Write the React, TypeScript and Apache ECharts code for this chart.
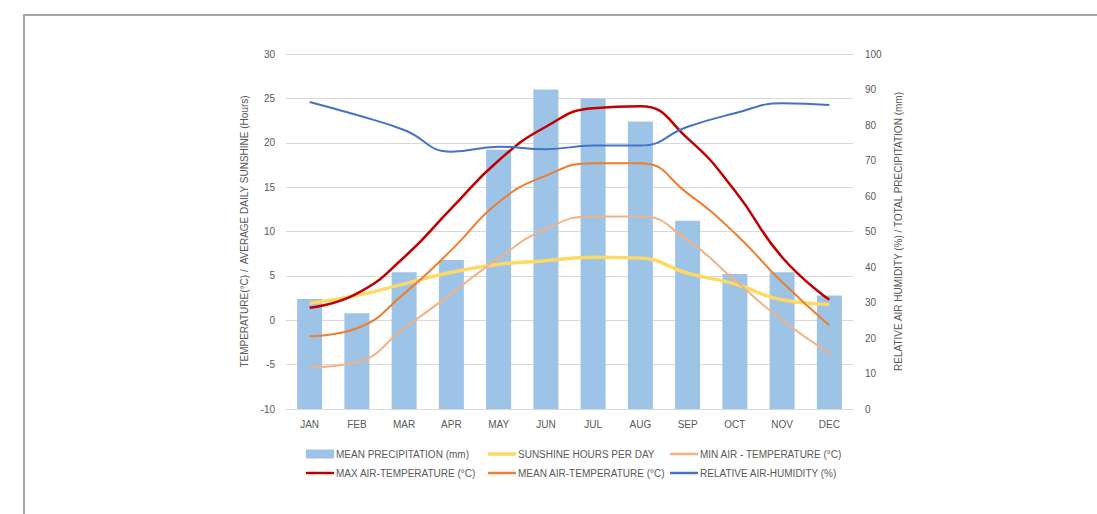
import React, { useEffect, useRef } from "react";
import * as echarts from "echarts";

const months = ["JAN", "FEB", "MAR", "APR", "MAY", "JUN", "JUL", "AUG", "SEP", "OCT", "NOV", "DEC"];
const precipitation = [31, 27, 38.5, 42, 73, 90, 87.5, 81, 53, 38, 38.5, 32];
const sunshine = [1.9, 2.8, 4.1, 5.4, 6.3, 6.7, 7.1, 7.0, 5.3, 4.1, 2.3, 1.8];
const minTemp = [-5.3, -4.7, -0.9, 3.0, 7.0, 10.3, 11.7, 11.7, 9.0, 4.5, 0.0, -3.7];
const maxTemp = [1.4, 3.0, 7.1, 12.6, 18.0, 21.8, 23.9, 24.1, 20.5, 14.6, 7.1, 2.3];
const meanTemp = [-1.8, -0.9, 3.0, 7.9, 13.3, 16.3, 17.7, 17.7, 14.3, 9.8, 4.3, -0.6];
const humidity = [86.5, 82.8, 78.6, 72.5, 73.9, 73.2, 74.2, 74.2, 79.5, 83.3, 86.1, 85.6];
const leftTicks = { min: -10, max: 30, interval: 5 };
const rightTicks = { min: 0, max: 100, interval: 10 };

const FONT = "'Liberation Sans Narrow', 'Liberation Sans', sans-serif";
const TXT = "#595959";

export default function App() {
  const ref = useRef<HTMLDivElement>(null);
  useEffect(() => {
    if (!ref.current) return;
    const chart = echarts.init(ref.current, null, { renderer: "svg" });
    const lineSeries = (name: string, data: number[], color: string, width: number) => ({
      name,
      type: "line",
      data,
      yAxisIndex: name.startsWith("RELATIVE") ? 1 : 0,
      smooth: 0.5,
      symbol: "none",
      showSymbol: false,
      lineStyle: { color, width },
      itemStyle: { color },
    });
    const thin = "path://M0,0 H56 V5 H0 Z";
    const thick = "path://M0,0 H56 V7 H0 Z";
    const legendBase = {
      orient: "vertical" as const,
      top: 444,
      itemWidth: 28,
      itemHeight: 9,
      itemGap: 9,
      textStyle: { color: TXT, fontSize: 10, fontFamily: FONT, padding: [0, 0, 0, -3] },
    };
    chart.setOption({
      animation: false,
      backgroundColor: "#ffffff",
      textStyle: { fontFamily: FONT },
      graphic: [
        {
          type: "rect",
          shape: { x: 24, y: 15, width: 1200, height: 600 },
          style: { fill: "none", stroke: "#a6a6a6", lineWidth: 2 },
          silent: true,
        },
      ],
      grid: { left: 286, right: 244, top: 54, bottom: 105 },
      legend: [
        {
          ...legendBase,
          left: 301,
          data: [
            { name: "MEAN PRECIPITATION (mm)", icon: "rect" },
            { name: "MAX AIR-TEMPERATURE (°C)", icon: thin },
          ],
        },
        {
          ...legendBase,
          left: 483,
          data: [
            { name: "SUNSHINE HOURS PER DAY", icon: thick },
            { name: "MEAN AIR-TEMPERATURE (°C)", icon: thin },
          ],
        },
        {
          ...legendBase,
          left: 665,
          data: [
            { name: "MIN AIR - TEMPERATURE (°C)", icon: thin },
            { name: "RELATIVE AIR-HUMIDITY (%)", icon: thin },
          ],
        },
      ],
      xAxis: {
        type: "category",
        data: months,
        axisLine: { lineStyle: { color: "#d9d9d9" } },
        axisTick: { show: false },
        axisLabel: { color: TXT, fontSize: 10, fontFamily: FONT, margin: 10 },
      },
      yAxis: [
        {
          type: "value",
          ...leftTicks,
          name: "TEMPERATURE(°C) /  AVERAGE DAILY SUNSHINE (Hours)",
          nameLocation: "middle",
          nameGap: 31,
          nameRotate: 90,
          nameTextStyle: { color: TXT, fontSize: 10, fontFamily: FONT },
          axisLabel: { color: TXT, fontSize: 10, fontFamily: FONT, margin: 11 },
          axisLine: { show: false },
          axisTick: { show: false },
          splitLine: { lineStyle: { color: "#d9d9d9", width: 1 } },
        },
        {
          type: "value",
          ...rightTicks,
          position: "right",
          name: "RELATIVE AIR HUMIDITY (%) / TOTAL PRECIPITATION (mm)",
          nameLocation: "middle",
          nameGap: 40,
          nameRotate: 90,
          nameTextStyle: { color: TXT, fontSize: 10, fontFamily: FONT },
          axisLabel: { color: TXT, fontSize: 10, fontFamily: FONT, margin: 12 },
          axisLine: { show: false },
          axisTick: { show: false },
          splitLine: { show: false },
        },
      ],
      series: [
        {
          name: "MEAN PRECIPITATION (mm)",
          type: "bar",
          yAxisIndex: 1,
          data: precipitation,
          barWidth: 25,
          itemStyle: { color: "#9dc3e6" },
        },
        lineSeries("SUNSHINE HOURS PER DAY", sunshine, "#ffd966", 3.5),
        lineSeries("MIN AIR - TEMPERATURE (°C)", minTemp, "#f4b183", 2),
        lineSeries("MAX AIR-TEMPERATURE (°C)", maxTemp, "#c00000", 2.5),
        lineSeries("MEAN AIR-TEMPERATURE (°C)", meanTemp, "#ed7d31", 2),
        lineSeries("RELATIVE AIR-HUMIDITY (%)", humidity, "#4472c4", 2),
      ],
    });
    return () => chart.dispose();
  }, []);
  return (
    <div
      ref={ref}
      style={{ position: "fixed", left: 0, top: 0, width: 1097, height: 514, background: "#fff" }}
    />
  );
}
